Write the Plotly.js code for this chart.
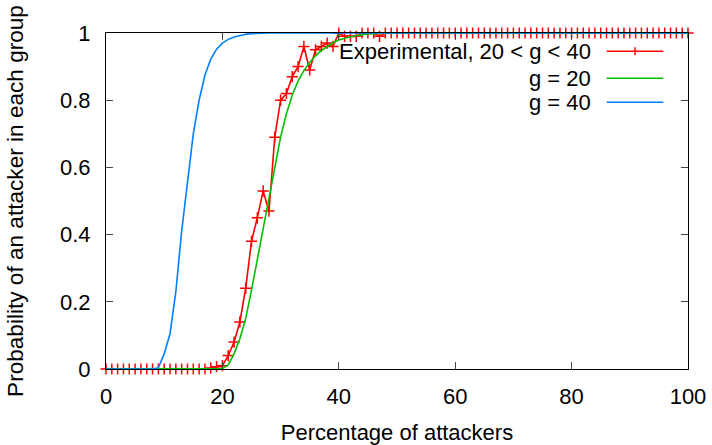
<!DOCTYPE html>
<html>
<head>
<meta charset="utf-8">
<script src="https://cdn.plot.ly/plotly-3.0.1.min.js"></script>
<style>html,body{margin:0;padding:0;background:#fff;}#chart{width:712px;height:445px;}</style>
</head>
<body>
<div id="chart"></div>
<script>
// Experimental, 20 < g < 40 : measured at every integer percentage 0..100
var expX = [0,1,2,3,4,5,6,7,8,9,10,11,12,13,14,15,16,17,18,19,20,21,22,23,24,25,26,27,28,29,30,31,32,33,34,35,36,37,38,39,40,41,42,43,44,45,46,47,48,49,50,51,52,53,54,55,56,57,58,59,60,61,62,63,64,65,66,67,68,69,70,71,72,73,74,75,76,77,78,79,80,81,82,83,84,85,86,87,88,89,90,91,92,93,94,95,96,97,98,99,100];
var expY = [0,0,0,0,0,0,0,0,0,0,0,0,0,0,0,0,0,0,0.003,0.007,0.01,0.04,0.08,0.14,0.24,0.38,0.45,0.53,0.47,0.69,0.80,0.82,0.87,0.90,0.96,0.89,0.95,0.96,0.97,0.96,1.0,0.99,0.99,0.99,1.0,1.0,1.0,0.99,1,1,1,1,1,1,1,1,1,1,1,1,1,1,1,1,1,1,1,1,1,1,1,1,1,1,1,1,1,1,1,1,1,1,1,1,1,1,1,1,1,1,1,1,1,1,1,1,1,1,1,1,1];

// g = 20 theoretical curve
var g20X = [0,19,20,21,22,23,24,25,26,27,28,29,30,31,32,33,34,35,36,37,38,39,40,41,42,43,44,45,46,47,48,100];
var g20Y = [0,0,0.001,0.012,0.045,0.09,0.15,0.235,0.325,0.415,0.505,0.60,0.69,0.76,0.815,0.857,0.888,0.912,0.932,0.948,0.96,0.971,0.979,0.985,0.989,0.992,0.995,0.997,0.998,0.999,1,1];

// g = 40 theoretical curve
var g40X = [0,8,9,10,11,12,13,14,15,16,17,18,19,20,21,22,23,24,25,26,27,28,100];
var g40Y = [0,0,0.004,0.045,0.105,0.23,0.41,0.565,0.70,0.80,0.875,0.922,0.952,0.970,0.981,0.988,0.993,0.996,0.998,0.999,1,1,1];

var seriesNames = ['Experimental, 20 < g < 40', 'g = 20', 'g = 40'];
var seriesColors = ['#ff0000', '#00c000', '#0080ff'];

var xTicks = [0,20,40,60,80,100];
var yTicks = [0,0.2,0.4,0.6,0.8,1];
var yTickText = ['0','0.2','0.4','0.6','0.8','1'];

var FONT = 'Liberation Sans, Arial, Helvetica, sans-serif';

var traces = [
  {x: expX, y: expY, type: 'scatter', mode: 'lines+markers', name: seriesNames[0],
   line: {color: seriesColors[0], width: 1.6},
   marker: {symbol: 'cross-thin-open', size: 8, color: seriesColors[0], line: {color: seriesColors[0], width: 1.5}},
   cliponaxis: false},
  {x: g20X, y: g20Y, type: 'scatter', mode: 'lines', name: seriesNames[1],
   line: {color: seriesColors[1], width: 1.6}, cliponaxis: false},
  {x: g40X, y: g40Y, type: 'scatter', mode: 'lines', name: seriesNames[2],
   line: {color: seriesColors[2], width: 1.6}, cliponaxis: false}
];

// custom legend (text right-aligned, sample line on the right, as in gnuplot)
var legTextX = 0.8376, legL0 = 0.8603, legL1 = 0.9576, legMid = 0.909;
var legY = [0.9457, 0.8654, 0.794];
var annotations = [], shapes = [];
for (var i = 0; i < 3; i++) {
  annotations.push({xref: 'paper', yref: 'paper', x: legTextX, y: legY[i], xanchor: 'right', yanchor: 'middle',
    text: seriesNames[i].replace(/</g, '&lt;'), showarrow: false, font: {family: FONT, size: 22, color: '#000'}});
  shapes.push({type: 'line', xref: 'paper', yref: 'paper', x0: legL0, x1: legL1, y0: legY[i], y1: legY[i],
    line: {color: seriesColors[i], width: 1.6}});
}
shapes.push({type: 'line', xref: 'paper', yref: 'paper', x0: legMid, x1: legMid, y0: legY[0] - 0.012, y1: legY[0] + 0.012,
  line: {color: seriesColors[0], width: 1.5}});

var axisCommon = {
  showgrid: false, zeroline: false, showline: true, linecolor: '#000', linewidth: 1,
  mirror: 'ticks', ticks: 'inside', ticklen: 7, tickcolor: '#444', tickwidth: 1,
  tickfont: {family: FONT, size: 22, color: '#000'}
};

var layout = {
  width: 712, height: 445,
  margin: {l: 106, r: 24, t: 33, b: 76, pad: 0},
  paper_bgcolor: '#fff', plot_bgcolor: '#fff',
  showlegend: false,
  font: {family: FONT, size: 22, color: '#000'},
  xaxis: Object.assign({}, axisCommon, {
    range: [0, 100], tickvals: xTicks, ticktext: xTicks.map(String), ticklabelstandoff: 8,
    title: {text: 'Percentage of attackers', font: {family: FONT, size: 22, color: '#000'}, standoff: 17}
  }),
  yaxis: Object.assign({}, axisCommon, {
    range: [0, 1], tickvals: yTicks, ticktext: yTickText, ticklabelstandoff: 10,
    title: {text: 'Probability of an attacker in each group', font: {family: FONT, size: 22.6, color: '#000'}, standoff: 30}
  }),
  annotations: annotations,
  shapes: shapes
};

Plotly.newPlot('chart', traces, layout, {staticPlot: true, displayModeBar: false});
</script>
</body>
</html>
